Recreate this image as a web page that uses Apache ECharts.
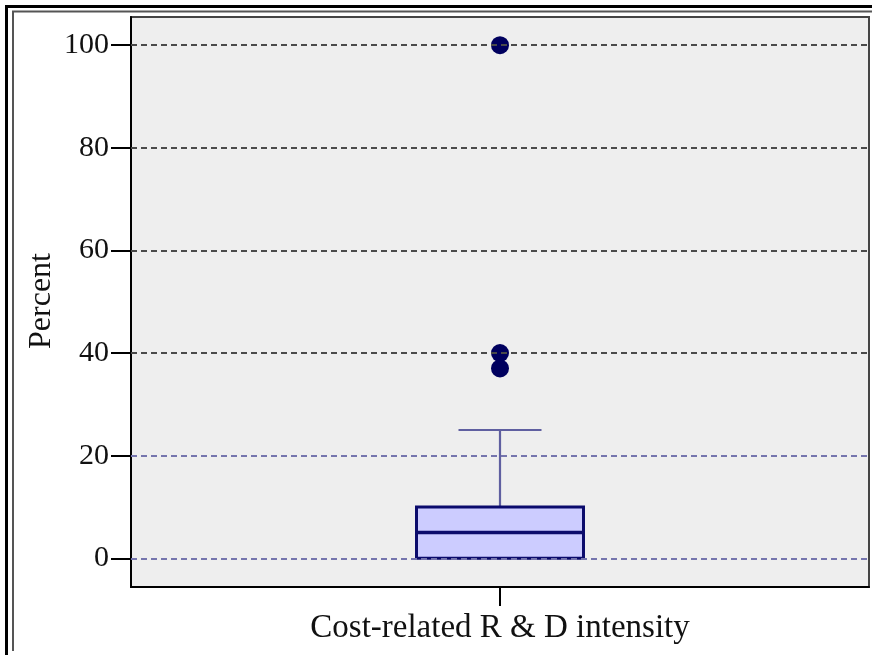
<!DOCTYPE html>
<html>
<head>
<meta charset="utf-8">
<script src="https://cdn.jsdelivr.net/npm/echarts@6/dist/echarts.min.js"></script>
<style>
  html, body { margin: 0; padding: 0; background: #ffffff; }
  #chart { width: 872px; height: 655px; }
</style>
</head>
<body>
<div id="chart"></div>
<script>
// Cost-related R & D intensity, in percent
const categories = ['Cost-related R & D intensity'];
const yAxisTitle = 'Percent';
// [category index, lower whisker, Q1, median, Q3, upper whisker]
const boxStats = [[0, 0, 0, 5, 10, 25]];
// outlying observations
const outliers = [[0, 100], [0, 40], [0, 37]];
const yTicks = [0, 20, 40, 60, 80, 100];
const xTicks = [0];
const gridLineValuesLight = [0, 20];
const gridLineValuesDark = [40, 60, 80, 100];

const serif = '"Liberation Serif", "DejaVu Serif", serif';
const chart = echarts.init(document.getElementById('chart'), null, { renderer: 'canvas' });

function gridLines(values, color) {
  return values.map(v => ({
    yAxis: v,
    lineStyle: { color: color, type: [6, 4], width: 2 }
  }));
}

chart.setOption({
  animation: false,
  grid: {
    left: 131, top: 17, right: 3, bottom: 68,
    show: true,
    backgroundColor: '#eeeeee',
    borderColor: '#444444',
    borderWidth: 2
  },
  graphic: [
    { type: 'polyline', silent: true, z: 100,
      shape: { points: [[6.5, 655], [6.5, 6.5], [872, 6.5]] },
      style: { stroke: '#000000', lineWidth: 3, fill: null } },
    { type: 'polyline', silent: true, z: 100,
      shape: { points: [[13, 651], [13, 11.5], [872, 11.5]] },
      style: { stroke: '#555555', lineWidth: 2, fill: null } },
    // vertical axis title
    { type: 'text', silent: true, x: 42, y: 301, rotation: Math.PI / 2,
      style: { text: yAxisTitle, fill: '#111111', font: '32px ' + serif, align: 'center', verticalAlign: 'middle' } }
  ],
  xAxis: {
    // one category placed at the centre of the plot
    type: 'value',
    min: -1,
    max: 1,
    axisLine: { onZero: false, lineStyle: { color: '#000000', width: 2 } },
    axisTick: { show: true, length: 19, customValues: xTicks, lineStyle: { color: '#000000', width: 2 } },
    axisLabel: {
      margin: 25, customValues: xTicks, color: '#111111', fontFamily: serif, fontSize: 33,
      formatter: v => categories[v] || ''
    },
    splitLine: { show: false }
  },
  yAxis: {
    type: 'value',
    min: -5.6,
    max: 105.5,
    axisLine: { show: true, onZero: false, lineStyle: { color: '#000000', width: 2 } },
    axisTick: { show: true, length: 20, customValues: yTicks, lineStyle: { color: '#000000', width: 2 } },
    axisLabel: { margin: 22, customValues: yTicks, color: '#111111', fontFamily: serif, fontSize: 30 },
    splitLine: { show: false }
  },
  series: [
    {
      type: 'line',
      data: [],
      z: 1,
      markLine: {
        silent: true,
        symbol: 'none',
        label: { show: false },
        data: gridLines(gridLineValuesLight, '#7575ad').concat(gridLines(gridLineValuesDark, '#4a4a4a'))
      }
    },
    {
      type: 'custom',
      z: 3,
      data: boxStats,
      renderItem: function (params, api) {
        const x = api.value(0);
        const pMin = api.coord([x, api.value(1)]);
        const pQ1 = api.coord([x, api.value(2)]);
        const pMed = api.coord([x, api.value(3)]);
        const pQ3 = api.coord([x, api.value(4)]);
        const pMax = api.coord([x, api.value(5)]);
        const boxW = 167, capW = 83;
        const cx = pQ1[0];
        const whiskerStyle = { stroke: '#5f5fa0', lineWidth: 2.2 };
        return {
          type: 'group',
          children: [
            { type: 'line', shape: { x1: cx, y1: pQ3[1], x2: cx, y2: pMax[1] }, style: whiskerStyle },
            { type: 'line', shape: { x1: cx - capW / 2, y1: pMax[1], x2: cx + capW / 2, y2: pMax[1] }, style: whiskerStyle },
            { type: 'line', shape: { x1: cx, y1: pQ1[1], x2: cx, y2: pMin[1] }, style: whiskerStyle },
            { type: 'line', shape: { x1: cx - capW / 2, y1: pMin[1], x2: cx + capW / 2, y2: pMin[1] }, style: whiskerStyle },
            { type: 'rect',
              shape: { x: cx - boxW / 2, y: pQ3[1], width: boxW, height: pQ1[1] - pQ3[1] },
              style: { fill: '#ccccff', stroke: '#0b0b6c', lineWidth: 3 } },
            { type: 'line',
              shape: { x1: cx - boxW / 2, y1: pMed[1], x2: cx + boxW / 2, y2: pMed[1] },
              style: { stroke: '#0b0b6c', lineWidth: 3.5 } }
          ]
        };
      }
    },
    {
      type: 'scatter',
      z: 4,
      data: outliers,
      symbol: 'circle',
      symbolSize: 18,
      itemStyle: { color: '#00005e', opacity: 1 }
    }
  ]
});
</script>
</body>
</html>
